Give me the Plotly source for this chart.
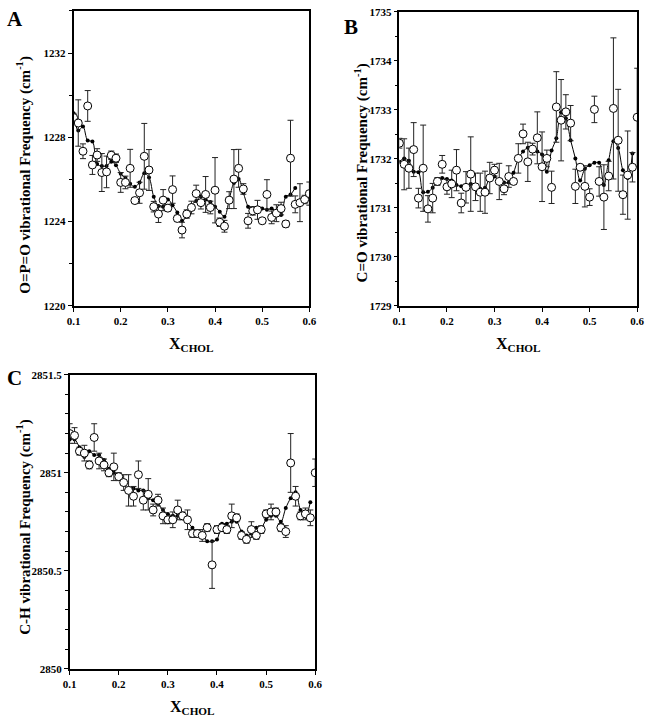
import plotly.graph_objects as go

W, H = 653, 719

# ---------------- data ----------------
x_vals = [round(0.10 + 0.01 * i, 2) for i in range(51)]

# Panel A: O=P=O
a_open = [1228.94, 1228.68, 1227.34, 1229.49, 1226.69, 1227.16, 1226.33, 1226.36, 1227.15, 1227.01,
          1225.86, 1225.86, 1226.53, 1225.00, 1225.37, 1227.10, 1226.45, 1224.71, 1224.36, 1225.02,
          1224.64, 1225.52, 1224.15, 1223.60, 1224.36, 1224.67, 1225.33, 1224.90, 1225.29, 1224.67,
          1225.49, 1223.97, 1223.78, 1225.02, 1226.02, 1226.53, 1225.55, 1224.04, 1224.51, 1224.56,
          1224.04, 1225.29, 1224.20, 1224.40, 1224.62, 1223.89, 1227.01, 1224.82, 1224.90, 1225.05,
          1225.33]
a_err = [0.20, 1.10, 0.35, 0.73, 0.45, 0.30, 0.90, 0.75, 0.20, 0.20,
         0.47, 0.30, 0.90, 0.10, 0.50, 1.56, 0.97, 0.25, 0.40, 0.50,
         0.15, 0.65, 0.15, 0.37, 0.20, 0.30, 0.40, 0.30, 0.85, 0.30,
         1.55, 0.20, 0.28, 0.40, 1.40, 0.90, 0.25, 0.35, 0.20, 0.45,
         0.10, 0.70, 0.30, 0.40, 0.30, 0.15, 1.80, 0.40, 0.90, 0.20,
         0.55]
a_fill_x = x_vals[:48]
a_fill = [1229.14, 1228.32, 1228.51, 1227.85, 1227.80, 1226.73, 1226.64, 1226.64, 1226.84, 1226.67,
          1226.27, 1226.07, 1225.80, 1225.65, 1225.86, 1226.30, 1226.10, 1225.18, 1224.74, 1224.71,
          1225.05, 1224.78, 1224.43, 1224.04, 1224.25, 1224.78, 1224.98, 1225.21, 1225.05, 1224.93,
          1224.71, 1224.47, 1224.23, 1225.05, 1225.83, 1226.02, 1225.37, 1224.71, 1224.40, 1224.67,
          1224.62, 1224.56, 1224.62, 1224.47, 1224.31, 1225.18, 1225.29, 1225.60]

# Panel B: C=O
b_open = [1732.32, 1731.89, 1731.81, 1732.19, 1731.20, 1731.81, 1730.98, 1731.20, 1731.54, 1731.89,
          1731.43, 1731.49, 1731.77, 1731.10, 1731.42, 1731.69, 1731.43, 1731.32, 1731.32, 1731.61,
          1731.77, 1731.54, 1731.39, 1731.64, 1731.54, 1732.01, 1732.51, 1731.94, 1732.20, 1732.43,
          1731.84, 1732.01, 1731.42, 1733.06, 1732.79, 1732.96, 1732.73, 1731.44, 1731.83, 1731.44,
          1731.22, 1733.01, 1731.54, 1731.22, 1731.65, 1733.03, 1732.38, 1731.27, 1731.67, 1731.83,
          1732.85]
b_err = [0.10, 0.52, 0.41, 0.55, 0.20, 0.88, 0.27, 0.30, 0.08, 0.18,
         0.15, 0.28, 0.42, 0.20, 0.32, 0.76, 0.28, 0.39, 0.43, 0.32,
         0.12, 0.37, 0.12, 0.22, 0.06, 0.30, 0.20, 0.40, 0.12, 0.53,
         0.71, 0.17, 0.33, 0.72, 0.83, 0.35, 0.36, 0.35, 0.05, 0.42,
         0.17, 0.27, 0.30, 0.66, 0.30, 1.44, 1.04, 0.40, 0.90, 0.30,
         1.00]
b_fill_x = x_vals[:50]
b_fill = [1731.94, 1732.01, 1731.96, 1731.74, 1731.73, 1731.32, 1731.33, 1731.41, 1731.56, 1731.61,
          1731.59, 1731.56, 1731.47, 1731.44, 1731.44, 1731.49, 1731.47, 1731.39, 1731.41, 1731.61,
          1731.64, 1731.56, 1731.52, 1731.52, 1731.72, 1732.00, 1732.15, 1732.23, 1732.20, 1732.15,
          1732.09, 1731.74, 1732.17, 1732.42, 1732.95, 1732.83, 1732.38, 1732.01, 1731.56, 1731.80,
          1731.87, 1731.92, 1731.92, 1731.47, 1731.97, 1732.36, 1732.22, 1731.77, 1731.61, 1732.11]

# Panel C: C-H
c_open = [2851.20, 2851.19, 2851.11, 2851.10, 2851.04, 2851.18, 2851.06, 2851.04, 2851.00, 2851.03,
          2850.98, 2850.95, 2850.91, 2850.88, 2850.99, 2850.86, 2850.89, 2850.81, 2850.86, 2850.78,
          2850.76, 2850.76, 2850.81, 2850.78, 2850.76, 2850.69, 2850.69, 2850.68, 2850.72, 2850.53,
          2850.71, 2850.72, 2850.71, 2850.78, 2850.77, 2850.68, 2850.66, 2850.71, 2850.68, 2850.71,
          2850.79, 2850.80, 2850.80, 2850.72, 2850.70, 2851.05, 2850.88, 2850.78, 2850.79, 2850.77,
          2851.00]
c_err = [0.05, 0.04, 0.02, 0.04, 0.02, 0.07, 0.04, 0.03, 0.02, 0.07,
         0.02, 0.04, 0.08, 0.05, 0.07, 0.05, 0.08, 0.03, 0.03, 0.04,
         0.02, 0.04, 0.05, 0.02, 0.05, 0.02, 0.02, 0.03, 0.02, 0.12,
         0.02, 0.02, 0.02, 0.06, 0.02, 0.02, 0.02, 0.04, 0.02, 0.02,
         0.02, 0.04, 0.02, 0.02, 0.03, 0.15, 0.05, 0.02, 0.03, 0.04,
         0.07]
c_fill_x = x_vals[:50]
c_fill = [2851.17, 2851.17, 2851.13, 2851.08, 2851.11, 2851.09, 2851.09, 2851.065, 2851.02, 2851.00,
          2850.98, 2850.94, 2850.92, 2850.92, 2850.91, 2850.91, 2850.87, 2850.86, 2850.84, 2850.81,
          2850.79, 2850.78, 2850.78, 2850.78, 2850.75, 2850.72, 2850.70, 2850.69, 2850.65, 2850.65,
          2850.66, 2850.74, 2850.74, 2850.75, 2850.75, 2850.70, 2850.68, 2850.69, 2850.72, 2850.72,
          2850.76, 2850.78, 2850.78, 2850.75, 2850.82, 2850.87, 2850.90, 2850.81, 2850.78, 2850.85]

x_ticks = [0.1, 0.2, 0.3, 0.4, 0.5, 0.6]
x_ticklabels = ["0.1", "0.2", "0.3", "0.4", "0.5", "0.6"]
a_yticks = [1220, 1224, 1228, 1232]
a_yticklabels = ["1220", "1224", "1228", "1232"]
b_yticks = [1729, 1730, 1731, 1732, 1733, 1734, 1735]
b_yticklabels = ["1729", "1730", "1731", "1732", "1733", "1734", "1735"]
c_yticks = [2850, 2850.5, 2851, 2851.5]
c_yticklabels = ["2850", "2850.5", "2851", "2851.5"]

panels = [
    dict(key="", letter="A", open=a_open, err=a_err, fx=a_fill_x, fy=a_fill,
         yrange=[1220, 1234], yt=a_yticks, ytl=a_yticklabels, minor=2,
         ytitle="O=P=O vibrational Frequency (cm<sup>-1</sup>)",
         px=(68, 309), py=(5, 305), title_xy=(17, 172), letter_xy=(8, 13)),
    dict(key="2", letter="B", open=b_open, err=b_err, fx=b_fill_x, fy=b_fill,
         yrange=[1729, 1735], yt=b_yticks, ytl=b_yticklabels, minor=0.5,
         ytitle="C=O vibrational Frequency (cm<sup>-1</sup>)",
         px=(401, 644), py=(6, 305), title_xy=(362, 170), letter_xy=(352, 21)),
    dict(key="3", letter="C", open=c_open, err=c_err, fx=c_fill_x, fy=c_fill,
         yrange=[2850, 2851.5], yt=c_yticks, ytl=c_yticklabels, minor=0.1,
         ytitle="C-H vibrational Frequency (cm<sup>-1</sup>)",
         px=(64, 315), py=(375, 674), title_xy=(17, 530), letter_xy=(8, 378)),
]

SERIF = "Liberation Serif, Times New Roman, serif"
fig = go.Figure()
annotations = []
layout = dict(width=W, height=H, margin=dict(l=0, r=0, t=0, b=0),
              paper_bgcolor="white", plot_bgcolor="white", showlegend=False)

for p in panels:
    xa = "x" + p["key"]
    ya = "y" + p["key"]
    # smoothed line through filled points
    fig.add_trace(go.Scatter(x=p["fx"], y=p["fy"], mode="lines+markers", xaxis=xa, yaxis=ya,
                             line=dict(color="black", width=1, shape="spline", smoothing=1.0),
                             marker=dict(color="black", size=4, symbol="circle")))
    # open circles with error bars
    fig.add_trace(go.Scatter(x=x_vals, y=p["open"], mode="markers", xaxis=xa, yaxis=ya,
                             error_y=dict(type="data", array=p["err"], visible=True,
                                          color="#222", thickness=1, width=3),
                             marker=dict(color="white", size=8, symbol="circle",
                                         line=dict(color="black", width=1))))
    x0, x1 = p["px"]
    y0, y1 = p["py"]
    layout["xaxis" + p["key"]] = dict(
        domain=[x0 / W, x1 / W], anchor=ya, range=[0.1, 0.6],
        tickmode="array", tickvals=x_ticks, ticktext=x_ticklabels,
        ticks="outside", ticklen=4, tickwidth=1, tickcolor="black",
        showline=True, linecolor="black", linewidth=1.5, mirror=True,
        showgrid=False, zeroline=False,
        tickfont=dict(family=SERIF, size=11, color="black", weight="bold"))
    layout["yaxis" + p["key"]] = dict(
        domain=[1 - y1 / H, 1 - y0 / H], anchor=xa, range=p["yrange"],
        tickmode="array", tickvals=p["yt"], ticktext=p["ytl"],
        ticks="outside", ticklen=4, tickwidth=1, tickcolor="black",
        minor=dict(dtick=p["minor"], tick0=p["yrange"][0], ticks="outside", ticklen=3,
                   tickcolor="black", tickwidth=1),
        showline=True, linecolor="black", linewidth=1.5, mirror=True,
        showgrid=False, zeroline=False,
        tickfont=dict(family=SERIF, size=11, color="black", weight="bold"))
    # y title
    tx, ty = p["title_xy"]
    annotations.append(dict(xref="paper", yref="paper", x=tx / W,
                            y=1 - ty / H, text=p["ytitle"], textangle=-90,
                            showarrow=False, xanchor="center", yanchor="middle",
                            font=dict(family=SERIF, size=15, color="black", weight="bold")))
    # x title
    annotations.append(dict(xref="paper", yref="paper", x=((x0 + x1) / 2) / W,
                            y=1 - (y1 + 39) / H, text="X<sub>CHOL</sub>",
                            showarrow=False, xanchor="center", yanchor="middle",
                            font=dict(family=SERIF, size=16, color="black", weight="bold")))
    # panel letter
    lx, ly = p["letter_xy"]
    annotations.append(dict(xref="paper", yref="paper", x=lx / W, y=1 - ly / H,
                            text=p["letter"], showarrow=False, xanchor="center", yanchor="middle",
                            font=dict(family=SERIF, size=21, color="black", weight="bold")))

layout["annotations"] = annotations
fig.update_layout(**layout)
fig.write_html("out.html", config={"displayModeBar": False},
               post_script="document.body.style.margin='0';")
